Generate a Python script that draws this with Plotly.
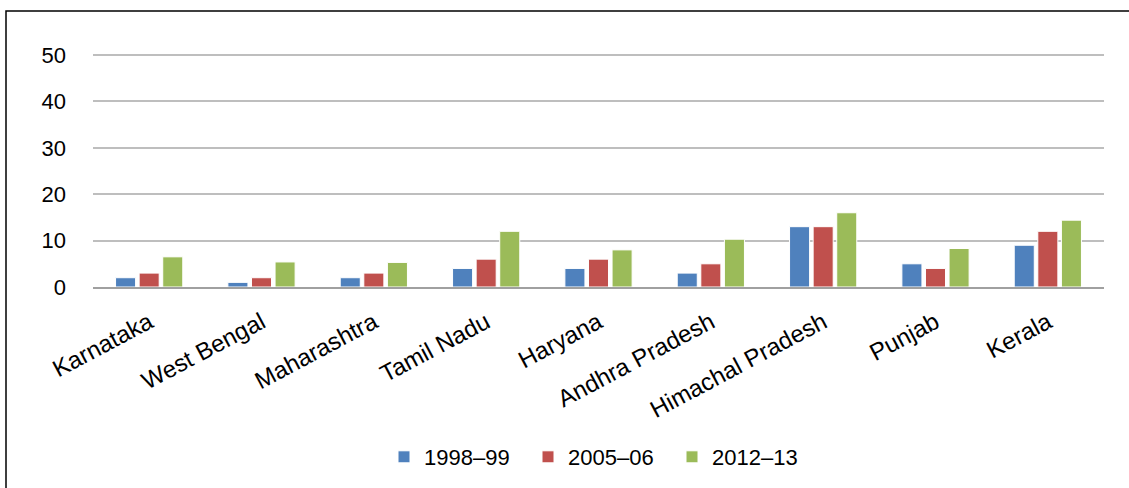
import plotly.graph_objects as go

states = ["Karnataka", "West Bengal", "Maharashtra", "Tamil Nadu", "Haryana",
          "Andhra Pradesh", "Himachal Pradesh", "Punjab", "Kerala"]
s1998 = [2, 1, 2, 4, 4, 3, 13, 5, 9]
s2005 = [3, 2, 3, 6, 6, 5, 13, 4, 12]
s2012 = [6.5, 5.4, 5.3, 12, 8, 10.3, 16, 8.3, 14.4]

series = [("1998\u201399", s1998, "#4F81BD"),
          ("2005\u201306", s2005, "#C0504D"),
          ("2012\u201313", s2012, "#9BBB59")]

fig = go.Figure()
for name, vals, col in series:
    fig.add_trace(go.Bar(x=states, y=vals, name=name,
                         marker=dict(color=col, line=dict(color="white", width=1))))

W, H = 1129, 488
l, r, t, b = 93, 25, 53, 201
pw, ph = W - l - r, H - t - b
y0px = H - b  # pixel row of value 0
ymax = ph / 4.64  # 10 units ~ 46.4 px


def py(p):
    return (y0px - p) / ph


def px(p):
    return (p - l) / pw


fig.update_layout(
    width=W, height=H,
    margin=dict(l=l, r=r, t=t, b=b, autoexpand=False),
    paper_bgcolor="white", plot_bgcolor="white",
    font=dict(family="Liberation Sans, Arial, sans-serif", size=22, color="black"),
    barmode="group", bargap=0.37, bargroupgap=0.15,
    showlegend=True,
    legend=dict(orientation="h", x=px(384), xanchor="left", y=py(457),
                yanchor="middle", font=dict(size=22), traceorder="normal",
                entrywidth=99, entrywidthmode="pixels"),
    xaxis=dict(tickangle=-28, showgrid=False, showline=True, linecolor="#A0A0A0",
               linewidth=2, ticks="", tickfont=dict(size=24), ticklabelstandoff=10),
    yaxis=dict(range=[0, ymax], tickvals=[0, 10, 20, 30, 40, 50], showgrid=True,
               gridcolor="#BEBEBE", gridwidth=1.5, zeroline=False, showline=False,
               ticks="", ticklen=0, tickfont=dict(size=22), ticklabelstandoff=26),
    shapes=[dict(type="rect", xref="paper", yref="paper",
                 x0=px(6), x1=px(W + 10),
                 y0=py(H + 10), y1=py(11),
                 line=dict(color="black", width=1.5), fillcolor="rgba(0,0,0,0)",
                 layer="below")],
)

fig.write_html("out.html", post_script="document.body.style.margin='0';",
               config={"displayModeBar": False})
